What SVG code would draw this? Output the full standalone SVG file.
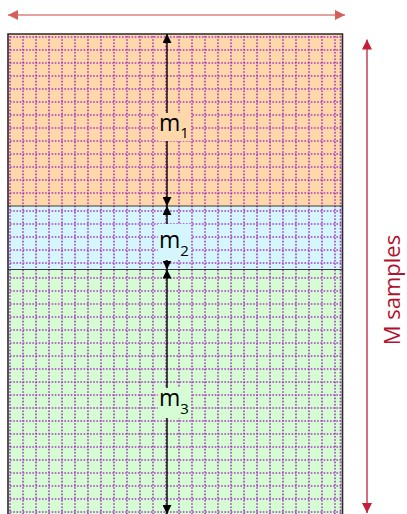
<svg xmlns="http://www.w3.org/2000/svg" width="407" height="514" viewBox="0 0 407 514">
<style>
.grid{fill:none;stroke:#a83cc0;stroke-width:1.6;stroke-dasharray:1.6 1.6}
.border{fill:none;stroke:#2a2a2a;stroke-width:1.6}
.sep{stroke:#3a3a3a;stroke-width:1.2}
.dim{stroke:#000;stroke-width:1.4;fill:none}
.lbl{font-family:"Open Sans","Liberation Sans",sans-serif;fill:#000}
</style>
<defs>
<marker id="ahB" viewBox="0 0 10 10" refX="10" refY="5" markerWidth="9" markerHeight="9" markerUnits="userSpaceOnUse" orient="auto-start-reverse">
<path d="M0 0L10 5L0 10Z" fill="#000"/>
</marker>
<marker id="ahS" viewBox="0 0 10 10" refX="10" refY="5" markerWidth="10" markerHeight="10" markerUnits="userSpaceOnUse" orient="auto-start-reverse">
<path d="M0 0L10 5L0 10Z" fill="#d4605c"/>
</marker>
<marker id="ahR" viewBox="0 0 10 10" refX="10" refY="5" markerWidth="10" markerHeight="10" markerUnits="userSpaceOnUse" orient="auto-start-reverse">
<path d="M0 0L10 5L0 10Z" fill="#c41e3a"/>
</marker>
</defs>
<g id="region-m1">
<rect x="8" y="34" width="334.5" height="172" fill="#fed7aa"/>
</g>
<g id="region-m2">
<rect x="8" y="206" width="334.5" height="63.5" fill="#d4f6fc"/>
</g>
<g id="region-m3">
<rect x="8" y="269.5" width="334.5" height="245" fill="#d6fcd4"/>
</g>
<g id="grid">
<path class="grid" d="M10 37H341M10 50H341M10 63H341M10 76H341M10 89H341M10 102H341M10 115H341M10 128H341M10 141H341M10 154H341M10 167H341M10 180H341M10 193H341M10 211H341M10 224H341M10 237H341M10 250H341M10 263H341M10 278H341M10 291H341M10 304H341M10 317H341M10 330H341M10 343H341M10 356H341M10 369H341M10 382H341M10 395H341M10 408H341M10 421H341M10 434H341M10 447H341M10 460H341M10 473H341M10 486H341M10 499H341M10 512H341"/>
<path class="grid" d="M10 36V514M23 36V514M36 36V514M49 36V514M62 36V514M75 36V514M88 36V514M101 36V514M114 36V514M127 36V514M140 36V514M153 36V514M166 36V514M179 36V514M192 36V514M205 36V514M218 36V514M231 36V514M244 36V514M257 36V514M270 36V514M283 36V514M296 36V514M309 36V514M322 36V514M335 36V514M340.5 36V514"/>
</g>
<g id="frame">
<line class="sep" x1="8" y1="206" x2="342.5" y2="206"/>
<line class="sep" x1="8" y1="269.5" x2="342.5" y2="269.5"/>
<path class="border" d="M8 515V34H342.5V515"/>
</g>
<g id="connectors">
<line x1="8" y1="15" x2="345" y2="15" stroke="#e4a29e" stroke-width="2" marker-start="url(#ahS)" marker-end="url(#ahS)"/>
<line x1="367" y1="39.5" x2="367" y2="513" stroke="#c94a5e" stroke-width="1.6" marker-start="url(#ahR)" marker-end="url(#ahR)"/>
<line class="dim" x1="167" y1="34" x2="167" y2="206" marker-start="url(#ahB)" marker-end="url(#ahB)"/>
<line class="dim" x1="167" y1="206" x2="167" y2="269.5" marker-start="url(#ahB)" marker-end="url(#ahB)"/>
<line class="dim" x1="167" y1="269.5" x2="167" y2="514" marker-start="url(#ahB)" marker-end="url(#ahB)"/>
</g>
<g id="label-m1">
<rect x="158" y="113" width="33" height="28" fill="#fed7aa"/>
<text class="lbl" x="159" y="131" font-size="23">m<tspan font-size="15" dy="7">1</tspan></text>
</g>
<g id="label-m2">
<rect x="158" y="224" width="33" height="36" fill="#d4f6fc"/>
<text class="lbl" x="159" y="248" font-size="23">m<tspan font-size="15" dy="8">2</tspan></text>
</g>
<g id="label-m3">
<rect x="158" y="388" width="33" height="30" fill="#d6fcd4"/>
<text class="lbl" x="159" y="406" font-size="23">m<tspan font-size="15" dy="8">3</tspan></text>
</g>
<g id="label-samples">
<text x="400" y="290" transform="rotate(-90 400 290)" text-anchor="middle" font-family="Open Sans, Liberation Sans, sans-serif" font-size="22" fill="#b3122e">M samples</text>
</g>
</svg>
